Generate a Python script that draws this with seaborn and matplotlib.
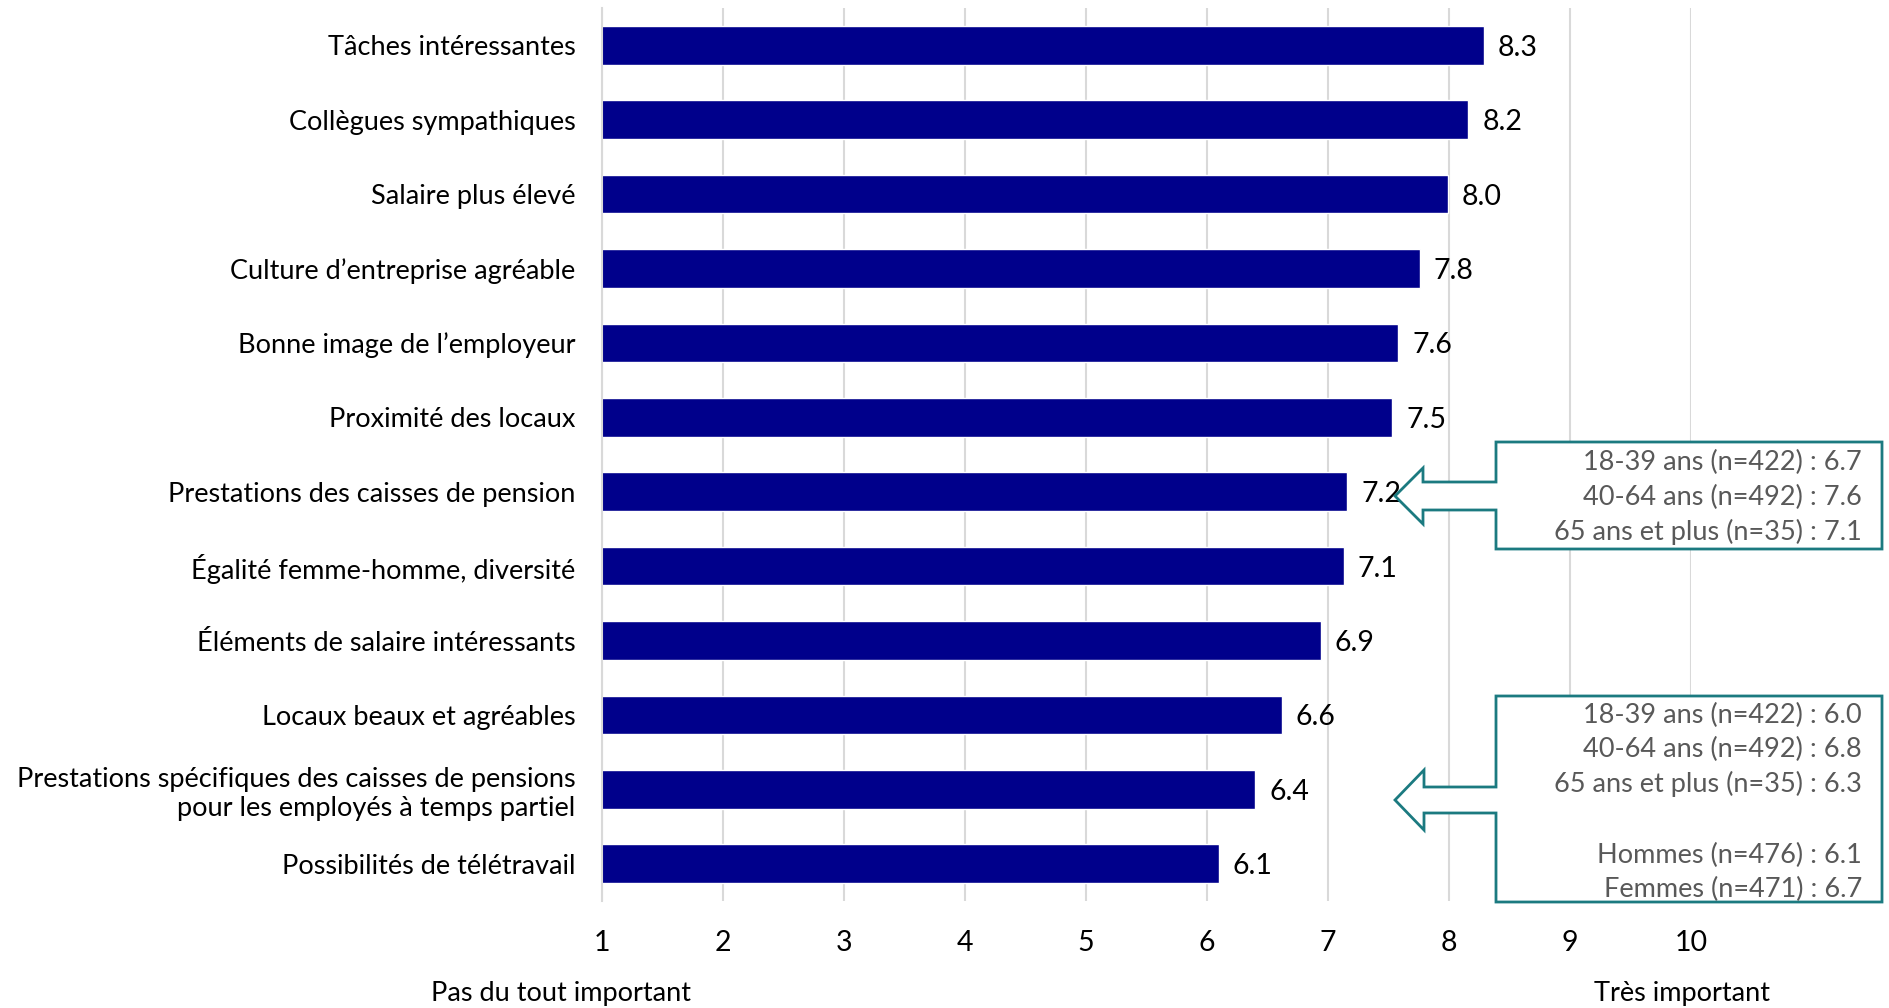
import matplotlib
matplotlib.use("Agg")
import matplotlib.pyplot as plt
from matplotlib.patches import Polygon
import seaborn as sns

# data
categories = [
    "Tâches intéressantes",
    "Collègues sympathiques",
    "Salaire plus élevé",
    "Culture d’entreprise agréable",
    "Bonne image de l’employeur",
    "Proximité des locaux",
    "Prestations des caisses de pension",
    "Égalité femme-homme, diversité",
    "Éléments de salaire intéressants",
    "Locaux beaux et agréables",
    "Prestations spécifiques des caisses de pensions\npour les employés à temps partiel",
    "Possibilités de télétravail",
]
scores = [8.29, 8.16, 7.99, 7.76, 7.58, 7.53, 7.16, 7.13, 6.94, 6.62, 6.40, 6.10]
x_ticks = list(range(1, 11))

pension_notes = [
    "18-39 ans (n=422) : 6.7",
    "40-64 ans (n=492) : 7.6",
    "65 ans et plus (n=35) : 7.1",
]
parttime_notes = [
    "18-39 ans (n=422) : 6.0",
    "40-64 ans (n=492) : 6.8",
    "65 ans et plus (n=35) : 6.3",
    "",
    "Hommes (n=476) : 6.1",
    "Femmes (n=471) : 6.7",
]

W, H = 1889, 1008
BAR_COLOR = "#00008B"
TEAL = "#1B7A80"
GRID = "#D9D9D9"
NOTE_GREY = "#595959"

sns.set_theme(style="white")
plt.rcParams["font.family"] = ["Lato", "DejaVu Sans"]
FS = 19.5
NUM_FS = 20.5

fig = plt.figure(figsize=(W / 100, H / 100), dpi=100)
ax = fig.add_axes([602 / W, (H - 901) / H, (1691 - 602) / W, (901 - 8) / H])

sns.barplot(x=scores, y=categories, orient="h", color=BAR_COLOR,
            saturation=1, width=0.52, ax=ax, zorder=2)

ax.set_xlim(1, 10)
ax.set_xticks(x_ticks)
ax.set_xticklabels([str(t) for t in x_ticks])
ax.xaxis.grid(True, color=GRID, linewidth=1.5, zorder=0)
ax.set_axisbelow(True)
for side in ["top", "right", "bottom"]:
    ax.spines[side].set_visible(False)
ax.spines["left"].set_color(GRID)
ax.spines["left"].set_linewidth(1.5)
ax.tick_params(axis="x", length=0, pad=21, labelsize=NUM_FS, labelcolor="black")
ax.tick_params(axis="y", length=0, pad=19, labelsize=FS, labelcolor="black")
for lab in ax.get_yticklabels():
    lab.set_multialignment("right")
ax.set_xlabel("")
ax.set_ylabel("")

value_labels = ax.bar_label(ax.containers[0], labels=[f"{v:.1f}" for v in scores],
                            padding=10, fontsize=NUM_FS, color="black")
for t in value_labels:
    t.set_verticalalignment("center_baseline")

# scale end captions
fig.text(561 / W, 1 - 994 / H, "Pas du tout important", ha="center", va="center",
         fontsize=FS, color="black")
fig.text(1682 / W, 1 - 994 / H, "Très important", ha="center", va="center",
         fontsize=FS, color="black")


def callout(left, right, top, bottom, tip_x, tip_y, head_x, head_half, shaft_half, lines, line_y):
    pts = [
        (left, top), (right, top), (right, bottom), (left, bottom),
        (left, tip_y + shaft_half), (head_x, tip_y + shaft_half),
        (head_x, tip_y + head_half), (tip_x, tip_y),
        (head_x, tip_y - head_half), (head_x, tip_y - shaft_half),
        (left, tip_y - shaft_half),
    ]
    pts = [(x / W, 1 - y / H) for x, y in pts]
    fig.patches.append(Polygon(pts, closed=True, facecolor="white", edgecolor=TEAL,
                               linewidth=2, transform=fig.transFigure, zorder=5))
    for txt, y in zip(lines, line_y):
        fig.text(1862 / W, 1 - y / H, txt, ha="right", va="center",
                 fontsize=FS, color=NOTE_GREY, zorder=6)


callout(1496, 1882, 442, 549, 1395, 496, 1423, 28, 14, pension_notes, [462, 497, 532])
callout(1496, 1882, 696, 902, 1395, 800, 1424, 30, 13, parttime_notes,
        [715, 749, 784, 820, 855, 889])

fig.savefig("out.png", dpi=100)
